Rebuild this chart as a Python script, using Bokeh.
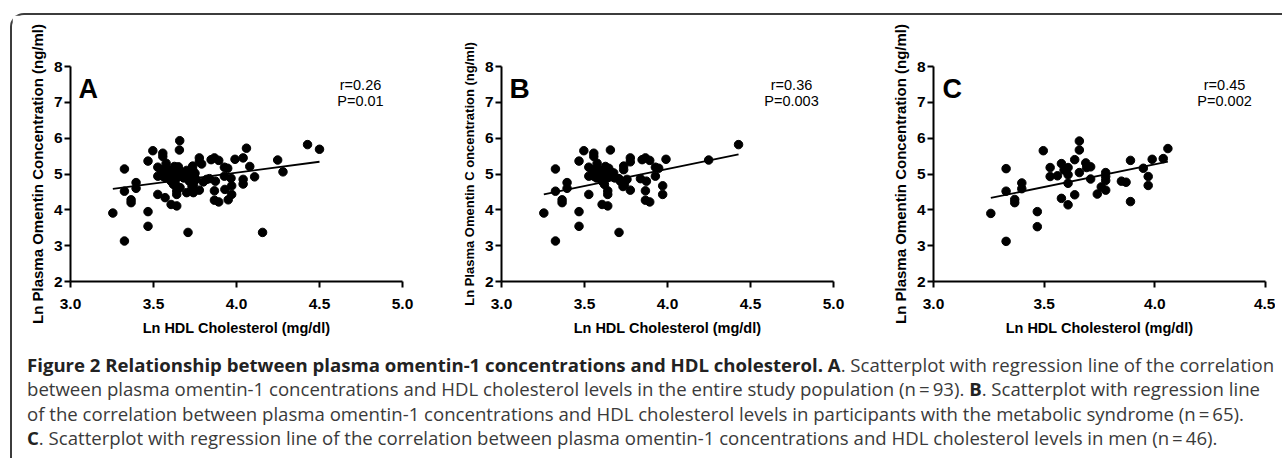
from bokeh.plotting import figure
from bokeh.models import Label, FixedTicker, PrintfTickFormatter, Div
from bokeh.layouts import row, column
from bokeh.embed import file_html
from bokeh.resources import INLINE

# ---------------- data ----------------
# participants with the metabolic syndrome (panel B, n = 65)
hdl_mets = [3.255, 3.325, 3.325, 3.325, 3.365, 3.365, 3.395, 3.395, 3.467, 3.467,
            3.467, 3.496, 3.526, 3.526, 3.526, 3.556, 3.556, 3.556, 3.576, 3.586,
            3.606, 3.640, 3.640, 3.640, 3.656, 3.708, 3.736, 3.736, 3.776, 3.776,
            3.708, 3.732, 3.776, 3.847, 3.867, 3.893, 3.867, 3.867, 3.893, 3.837,
            3.873, 3.927, 3.947, 3.927, 3.971, 3.971, 3.991, 4.248, 4.428, 3.612,
            3.626, 3.636, 3.606, 3.660, 3.646, 3.596, 3.546, 3.676, 3.620, 3.756,
            3.740, 3.572, 3.642, 3.682, 3.716]
omentin_mets = [3.91, 3.13, 5.14, 4.52, 4.28, 4.20, 4.76, 4.60, 3.95, 3.54,
                5.36, 5.65, 4.43, 5.19, 4.94, 5.58, 5.49, 4.94, 5.30, 5.12,
                4.15, 4.11, 4.53, 4.43, 5.67, 3.37, 5.22, 5.12, 5.45, 5.34,
                4.87, 4.65, 4.55, 5.40, 5.45, 5.38, 4.53, 4.27, 4.22, 4.87,
                4.80, 5.19, 5.16, 4.94, 4.67, 4.43, 5.41, 5.39, 5.82, 5.03,
                5.21, 4.89, 4.80, 5.05, 5.16, 4.94, 5.12, 5.03, 4.71, 4.85,
                4.71, 4.89, 5.12, 4.89, 4.80]

# remaining participants of the entire population (A = these + MetS, n = 93)
hdl_other = [3.658, 4.040, 4.060, 3.570, 3.740, 4.080, 4.109, 4.040, 4.040, 4.157,
             4.280, 4.500, 3.950, 3.967, 3.820, 3.700, 3.600, 3.620, 3.650, 3.680,
             3.700, 3.720, 3.630, 3.660, 3.750, 3.790, 3.800, 3.930]
omentin_other = [5.93, 5.45, 5.72, 4.34, 4.48, 5.21, 4.92, 4.85, 4.72, 3.37,
                 5.06, 5.69, 4.28, 4.88, 4.85, 4.48, 5.05, 4.95, 5.20, 4.98,
                 5.10, 4.92, 4.78, 4.62, 5.02, 5.28, 4.78, 4.57]

# men (panel C, n = 46)
hdl_men = [3.259, 3.328, 3.328, 3.328, 3.367, 3.367, 3.399, 3.399, 3.469, 3.469,
           3.496, 3.527, 3.527, 3.560, 3.578, 3.578, 3.590, 3.608, 3.608, 3.608,
           3.608, 3.638, 3.638, 3.659, 3.659, 3.659, 3.688, 3.692, 3.710, 3.710,
           3.740, 3.758, 3.778, 3.778, 3.778, 3.778, 3.849, 3.870, 3.890, 3.890,
           3.948, 3.970, 3.970, 3.988, 4.038, 4.059]
omentin_men = [3.90, 3.12, 5.15, 4.52, 4.29, 4.20, 4.75, 4.59, 3.95, 3.53,
               5.65, 5.18, 4.93, 4.95, 5.29, 4.32, 5.11, 5.18, 4.98, 4.74,
               4.14, 5.40, 4.42, 5.92, 5.67, 5.04, 5.31, 5.18, 5.20, 4.86,
               4.44, 4.64, 5.04, 4.93, 4.82, 4.55, 4.80, 4.77, 5.38, 4.23,
               5.16, 4.93, 4.68, 5.41, 5.43, 5.71]

# regression lines: (slope, intercept)
fit_all = (0.61, 2.597)
fit_mets = (0.953, 1.328)
fit_men = (1.262, 0.221)

panel_letters = ["A", "B", "C"]
r_texts = ["r=0.26", "r=0.36", "r=0.45"]
p_texts = ["P=0.01", "P=0.003", "P=0.002"]
y_labels = ["Ln Plasma Omentin Concentration (ng/ml)",
            "Ln Plasma Omentin C oncentration (ng/ml)",
            "Ln Plasma Omentin Concentration (ng/ml)"]
x_label = "Ln HDL Cholesterol (mg/dl)"
x_ticks_ab = [3.0, 3.5, 4.0, 4.5, 5.0]
x_ticks_c = [3.0, 3.5, 4.0, 4.5]
y_ticks = [2, 3, 4, 5, 6, 7, 8]

FONT = "Liberation Sans"


def make_panel(xs, ys, fit, x_max, x_ticks, letter, r_txt, p_txt, ylab, ylab_size,
               width, left, right, letter_dx, stat_cx, letter_size):
    p = figure(width=width, height=323, x_range=(3.0, x_max), y_range=(2, 8),
               output_backend="svg", toolbar_location=None,
               min_border_left=left, min_border_right=right,
               min_border_top=51, min_border_bottom=50)
    p.outline_line_color = None
    p.xgrid.grid_line_color = None
    p.ygrid.grid_line_color = None
    p.background_fill_color = "white"
    p.border_fill_color = "white"

    for ax in (p.xaxis[0], p.yaxis[0]):
        ax.axis_line_width = 2
        ax.axis_line_color = "black"
        ax.major_tick_line_width = 2
        ax.major_tick_line_color = "black"
        ax.major_tick_out = 6
        ax.major_tick_in = 0
        ax.minor_tick_line_color = None
        ax.major_label_text_font = FONT
        ax.major_label_text_font_style = "bold"
        ax.major_label_text_font_size = "15.5px"
        ax.major_label_text_color = "black"
        ax.axis_label_text_font = FONT
        ax.axis_label_text_font_style = "bold"
        ax.axis_label_text_color = "black"

    p.xaxis.ticker = FixedTicker(ticks=x_ticks)
    p.xaxis.formatter = PrintfTickFormatter(format="%.1f")
    p.xaxis.major_label_standoff = 11
    p.xaxis.axis_label = x_label
    p.xaxis.axis_label_text_font_size = "14.5px"
    p.xaxis.axis_label_standoff = 8

    p.yaxis.ticker = FixedTicker(ticks=y_ticks)
    p.yaxis.formatter = PrintfTickFormatter(format="%d")
    p.yaxis.major_label_standoff = 2
    p.yaxis.axis_label = ylab
    p.yaxis.axis_label_text_font_size = ylab_size
    p.yaxis.axis_label_standoff = 5

    p.scatter(xs, ys, size=8.5, fill_color="black", line_color="black")

    x0, x1 = min(xs), max(xs)
    slope, icpt = fit
    p.line([x0, x1], [icpt + slope * x0, icpt + slope * x1],
           line_color="black", line_width=1.8)

    p.add_layout(Label(x=3.0 + letter_dx, y=7.378, text=letter, text_font=FONT,
                       text_font_style="bold", text_font_size=letter_size,
                       text_color="black", text_baseline="alphabetic",
                       text_align="left"))
    p.add_layout(Label(x=stat_cx, y=7.486, text=r_txt, text_font=FONT,
                       text_font_size="14.5px", text_color="black",
                       text_baseline="alphabetic", text_align="center"))
    p.add_layout(Label(x=stat_cx, y=7.027, text=p_txt, text_font=FONT,
                       text_font_size="14.5px", text_color="black",
                       text_baseline="alphabetic", text_align="center"))
    return p


hdl_all = hdl_mets + hdl_other
omentin_all = omentin_mets + omentin_other

pA = make_panel(hdl_all, omentin_all, fit_all, 5.0, x_ticks_ab, panel_letters[0],
                r_texts[0], p_texts[0], y_labels[0], "15px", 431, 58, 41, 0.048, 4.747, "27px")
pB = make_panel(hdl_mets, omentin_mets, fit_mets, 5.0, x_ticks_ab, panel_letters[1],
                r_texts[1], p_texts[1], y_labels[1], "13px", 431, 58, 41, 0.048, 4.747, "28px")
pC = make_panel(hdl_men, omentin_men, fit_men, 4.5, x_ticks_c, panel_letters[2],
                r_texts[2], p_texts[2], y_labels[2], "15px", 401, 59, 10, 0.041, 4.315, "27px")

line_style = "white-space:nowrap;height:24.5px;line-height:24.5px;"
caption_html = (
    "<div style=\"font-family:'Open Sans',sans-serif;font-size:18.6px;color:#3a3a3a;"
    "padding:14.8px 0 0 15px;\">"
    f"<div style='{line_style}'><b style='color:#222'>Figure 2 Relationship between plasma omentin-1 "
    "concentrations and HDL cholesterol. A</b>. Scatterplot with regression line of the correlation</div>"
    f"<div style='{line_style}'>between plasma omentin-1 concentrations and HDL cholesterol levels in the "
    "entire study population (n\u2009=\u200993). <b style='color:#222'>B</b>. Scatterplot with regression line</div>"
    f"<div style='{line_style}'>of the correlation between plasma omentin-1 concentrations and HDL cholesterol "
    "levels in participants with the metabolic syndrome (n\u2009=\u200965).</div>"
    f"<div style='{line_style}'><b style='color:#222'>C</b>. Scatterplot with regression line of the "
    "correlation between plasma omentin-1 concentrations and HDL cholesterol levels in men (n\u2009=\u200946).</div>"
    "</div>"
)
caption = Div(text=caption_html, width=1270, height=120, margin=0)

layout = column(row(pA, pB, pC, margin=0), caption, margin=0,
                styles={"border-top": "2px solid #3c3c3c",
                        "border-left": "2px solid #3c3c3c",
                        "border-top-left-radius": "14px",
                        "position": "relative",
                        "left": "10px",
                        "top": "13px"})

open("out.html", "w").write(file_html(layout, INLINE))
